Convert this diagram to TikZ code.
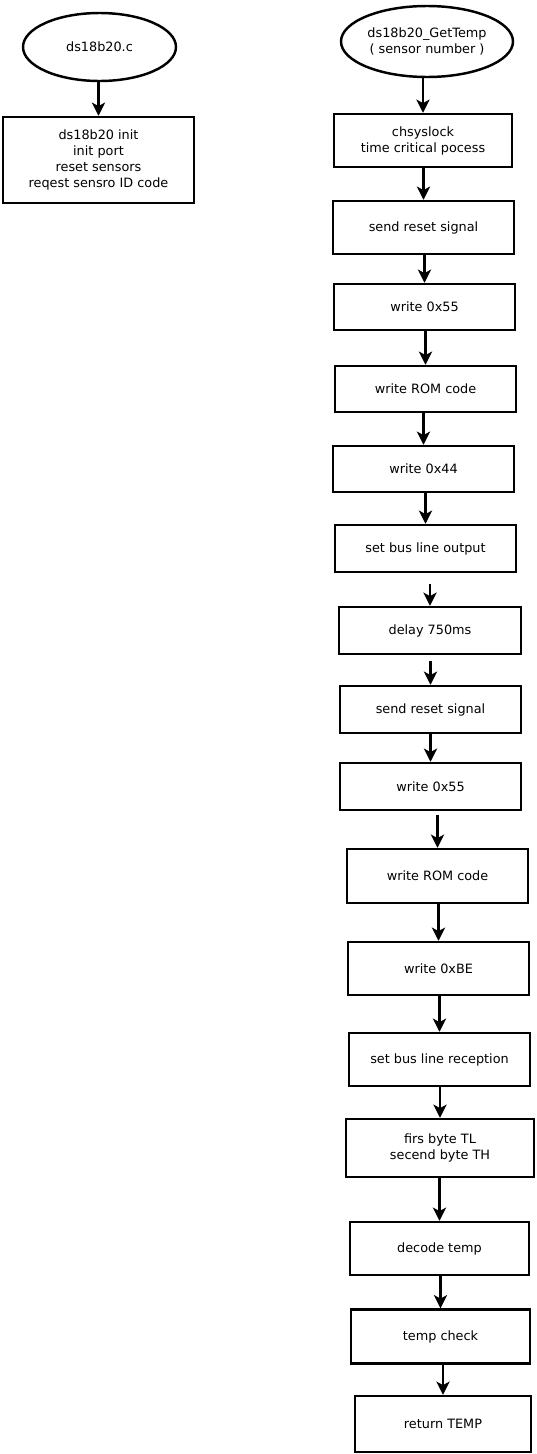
\documentclass[tikz,border=0pt]{standalone}
\usepackage{fontspec}
\setmainfont{DejaVu Sans}
\usepackage{tikz}
\usetikzlibrary{arrows.meta,shapes.geometric}

\begin{document}
\begin{tikzpicture}[x=0.02cm,y=-0.02cm,>={Stealth[length=7.5pt,width=7.5pt,inset=2pt]},
  line width=1.4pt,
  every node/.style={font=\fontsize{7.3}{9.1}\selectfont,align=center,inner sep=0pt},
  box/.style={draw,rectangle,minimum height=#1*0.02cm},
  oval/.style={draw,ellipse}]
\useasboundingbox (0,0) rectangle (537,1454);
% init part
\node[oval,minimum width=153*0.02cm,minimum height=68*0.02cm] (c) at (99.5,47) {ds18b20.c};
\node[box=86,minimum width=191*0.02cm] (init) at (98.5,160) {ds18b20 init\\init port\\reset sensors\\reqest sensro ID code};
\draw[->] (c.south -| init) -- (init.north);
% read temperature
\node[oval,minimum width=172*0.02cm,minimum height=71*0.02cm] (gettemp) at (427,41.5) {ds18b20\_GetTemp\\( sensor number )};
\node[box=53,minimum width=178*0.02cm] (lock) at (423,140.5) {chsyslock\\time critical pocess};
\node[box=53,minimum width=181*0.02cm] (reset1) at (423.5,227.5) {send reset signal};
\node[box=46,minimum width=181*0.02cm] (w55a) at (424.5,307) {write 0x55};
\node[box=46,minimum width=181*0.02cm] (rom1) at (425.5,389) {write ROM code};
\node[box=46,minimum width=181*0.02cm] (w44) at (423.5,469) {write 0x44};
\node[box=47,minimum width=181*0.02cm] (busout) at (425.5,548.5) {set bus line output};
\node[box=47,minimum width=182*0.02cm] (delay) at (430,630.5) {delay 750ms};
\node[box=47,minimum width=181*0.02cm] (reset2) at (430.5,709.5) {send reset signal};
\node[box=47,minimum width=181*0.02cm] (w55b) at (430.5,786.5) {write 0x55};
\node[box=54,minimum width=181*0.02cm] (rom2) at (437.5,876) {write ROM code};
\node[box=53,minimum width=181*0.02cm] (wbe) at (438.5,968.5) {write 0xBE};
\node[box=53,minimum width=181*0.02cm] (busin) at (439.5,1059.5) {set bus line reception};
\node[box=58,minimum width=188*0.02cm] (bytes) at (440,1148) {firs byte TL\\secend byte TH};
\node[box=53,minimum width=179*0.02cm] (decode) at (439.5,1248.5) {decode temp};
\node[box=54,minimum width=179*0.02cm] (check) at (440.5,1336.5) {temp check};
\node[box=56,minimum width=176*0.02cm] (ret) at (443,1424) {return TEMP};
\draw[->] (gettemp.south -| lock) -- (lock.north);
\draw[->] (lock.south -| reset1) -- (reset1.north);
\draw[->] (reset1.south -| w55a) -- (w55a.north);
\draw[->] (w55a.south -| rom1) -- (rom1.north);
\draw[->] (rom1.south -| w44) -- (w44.north);
\draw[->] (w44.south -| busout) -- (busout.north);
\draw[->,shorten <=6] (busout.south -| delay) -- (delay.north);
\draw[->,shorten <=3] (delay.south -| reset2) -- (reset2.north);
\draw[->] (reset2.south -| w55b) -- (w55b.north);
\draw[->,shorten <=2] (w55b.south -| rom2) -- (rom2.north);
\draw[->] (rom2.south -| wbe) -- (wbe.north);
\draw[->] (wbe.south -| busin) -- (busin.north);
\draw[->] (busin.south -| bytes) -- (bytes.north);
\draw[->] (bytes.south -| decode) -- (decode.north);
\draw[->] (decode.south -| check) -- (check.north);
\draw[->] (check.south -| ret) -- (ret.north);
\end{tikzpicture}
\end{document}
